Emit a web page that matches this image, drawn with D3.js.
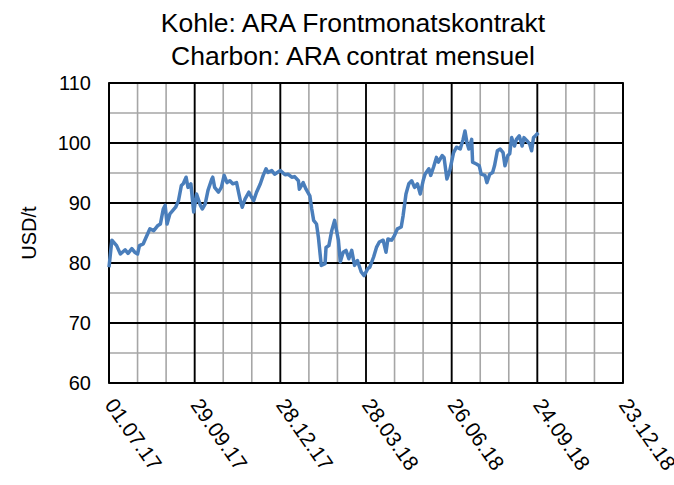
<!DOCTYPE html>
<html>
<head>
<meta charset="utf-8">
<script src="https://cdn.jsdelivr.net/npm/d3@7"></script>
<style>
  body { margin: 0; background: #fff; }
  text { font-family: Arial, "Liberation Sans", sans-serif; }
</style>
</head>
<body>
<div id="chart"></div>
<script>
// data: days since 01.07.17 and price in USD/t
var startDate = new Date(2017, 6, 1)
var dayOffsets = [0, 3, 8, 12, 17, 20, 24, 27, 30, 32, 36, 39, 43, 47, 51, 54, 57, 59, 61, 64,
  70, 73, 76, 78, 81, 83, 86, 89, 92, 96, 98, 101, 104, 108, 109, 111, 115, 118, 121, 124,
  127, 130, 134, 138, 140, 143, 147, 149, 152, 155, 159, 162, 165, 167, 171, 174, 180, 185, 188, 192,
  195, 199, 200, 204, 207, 211, 213, 215, 218, 220, 223, 227, 228, 231, 234, 237, 241, 243, 246, 249,
  252, 255, 258, 261, 265, 268, 272, 274, 278, 281, 284, 288, 291, 293, 297, 300, 303, 307, 309, 312,
  315, 318, 321, 324, 327, 330, 332, 336, 338, 341, 344, 346, 350, 352, 355, 358, 362, 365, 369, 372,
  374, 376, 378, 381, 382, 386, 389, 391, 395, 397, 400, 403, 405, 408, 411, 414, 416, 419, 421, 423,
  426, 428, 431, 434, 436, 439, 442, 444, 446, 448, 451]
var prices = [79.3, 83.8, 82.9, 81.5, 82.2, 81.6, 82.4, 81.8, 81.5, 82.9, 83.2, 84.3, 85.7, 85.4, 86.2, 86.5, 89.0, 89.6, 86.5, 88.2,
  89.3, 90.4, 92.9, 93.2, 94.3, 92.6, 93.2, 88.5, 91.5, 89.6, 89.0, 89.8, 92.1, 94.0, 94.3, 92.6, 91.8, 92.6, 94.6, 93.4,
  93.7, 93.2, 93.4, 90.4, 89.3, 90.7, 91.8, 91.2, 90.4, 91.8, 93.2, 94.6, 95.7, 95.1, 95.4, 94.8, 95.4, 94.7, 94.8, 94.3,
  94.4, 93.7, 92.3, 93.4, 92.3, 91.2, 89.0, 87.1, 86.5, 84.3, 79.6, 79.9, 82.6, 82.9, 85.4, 87.1, 83.8, 80.2, 81.8, 82.1,
  80.7, 82.1, 79.6, 80.4, 78.5, 77.9, 79.1, 79.3, 81.0, 82.6, 83.5, 83.8, 81.8, 84.0, 83.8, 84.6, 85.7, 86.0, 87.9, 91.5,
  93.2, 93.7, 92.6, 93.2, 91.5, 93.7, 94.8, 95.7, 94.6, 96.0, 97.6, 96.8, 97.9, 97.6, 94.0, 95.4, 98.4, 99.3, 99.0, 100.6,
  102.0, 100.1, 99.0, 100.6, 96.8, 96.5, 96.2, 94.8, 94.6, 93.4, 94.8, 95.1, 96.2, 98.7, 99.0, 98.4, 96.2, 97.9, 98.2, 100.9,
  99.5, 100.6, 101.2, 99.5, 100.9, 100.4, 99.8, 98.7, 100.9, 101.2, 101.7]

var xTickLabels = ["01.07.17", "29.09.17", "28.12.17", "28.03.18", "26.06.18", "24.09.18", "23.12.18"]
var yTicks = [60, 70, 80, 90, 100, 110]
var titleLines = ["Kohle: ARA Frontmonatskontrakt", "Charbon: ARA contrat mensuel"]

var W = 674, H = 485
var margin = { top: 83, right: 51, bottom: 102, left: 109 }
var w = W - margin.left - margin.right,
  h = H - margin.top - margin.bottom

var svg = d3.select("#chart")
  .append("svg")
  .attr("width", W)
  .attr("height", H)

var g = svg.append("g")
  .attr("transform", "translate(" + margin.left + "," + margin.top + ")")

var endDate = d3.timeDay.offset(startDate, 540)
var x = d3.scaleTime().domain([startDate, endDate]).range([0, w])
var y = d3.scaleLinear().domain([60, 110]).range([h, 0])

var data = dayOffsets.map(function (d, i) {
  return { date: d3.timeDay.offset(startDate, d), value: prices[i] }
})

// grid: minor every 30 days / 5 USD, major every 90 days / 10 USD
var minorDays = d3.range(0, 541, 30)
var majorDays = d3.range(0, 541, 90)
var minorY = d3.range(60, 111, 5)

g.selectAll(".vminor")
  .data(minorDays)
  .enter().append("line")
  .attr("x1", function (d) { return x(d3.timeDay.offset(startDate, d)) })
  .attr("x2", function (d) { return x(d3.timeDay.offset(startDate, d)) })
  .attr("y1", 0).attr("y2", h)
  .attr("stroke", "#a6a6a6").attr("stroke-width", 1.6)

g.selectAll(".hminor")
  .data(minorY)
  .enter().append("line")
  .attr("x1", 0).attr("x2", w)
  .attr("y1", function (d) { return y(d) })
  .attr("y2", function (d) { return y(d) })
  .attr("stroke", "#a6a6a6").attr("stroke-width", 1.6)

g.selectAll(".vmajor")
  .data(majorDays)
  .enter().append("line")
  .attr("x1", function (d) { return x(d3.timeDay.offset(startDate, d)) })
  .attr("x2", function (d) { return x(d3.timeDay.offset(startDate, d)) })
  .attr("y1", 0).attr("y2", h)
  .attr("stroke", "#000").attr("stroke-width", 1.8)

g.selectAll(".hmajor")
  .data(yTicks)
  .enter().append("line")
  .attr("x1", 0).attr("x2", w)
  .attr("y1", function (d) { return y(d) })
  .attr("y2", function (d) { return y(d) })
  .attr("stroke", "#000").attr("stroke-width", 1.8)

g.append("rect")
  .attr("width", w).attr("height", h)
  .attr("fill", "none").attr("stroke", "#000").attr("stroke-width", 1.8)

// line
var line = d3.line()
  .x(function (d) { return x(d.date) })
  .y(function (d) { return y(d.value) })

g.append("path")
  .datum(data)
  .attr("fill", "none")
  .attr("stroke", "#4a7ebb")
  .attr("stroke-width", 3.5)
  .attr("stroke-linejoin", "round")
  .attr("d", line)

// y labels
g.selectAll(".ylab")
  .data(yTicks)
  .enter().append("text")
  .attr("x", -18)
  .attr("y", function (d) { return y(d) })
  .attr("dy", "0.35em")
  .attr("text-anchor", "end")
  .attr("font-size", 20)
  .text(function (d) { return d })

g.append("text")
  .attr("transform", "translate(-73," + (h / 2) + ") rotate(-90)")
  .attr("text-anchor", "middle")
  .attr("font-size", 20)
  .text("USD/t")

// x labels, rotated
g.selectAll(".xlab")
  .data(majorDays)
  .enter().append("text")
  .attr("transform", function (d) {
    return "translate(" + (x(d3.timeDay.offset(startDate, d)) - 5) + "," + (h + 22) + ") rotate(55)"
  })
  .attr("text-anchor", "start")
  .attr("font-size", 21)
  .text(function (d, i) { return xTickLabels[i] })

// title
svg.selectAll(".title")
  .data(titleLines)
  .enter().append("text")
  .attr("x", 353)
  .attr("y", function (d, i) { return 32 + i * 33 })
  .attr("text-anchor", "middle")
  .attr("font-size", 26.5)
  .text(function (d) { return d })
</script>
</body>
</html>
